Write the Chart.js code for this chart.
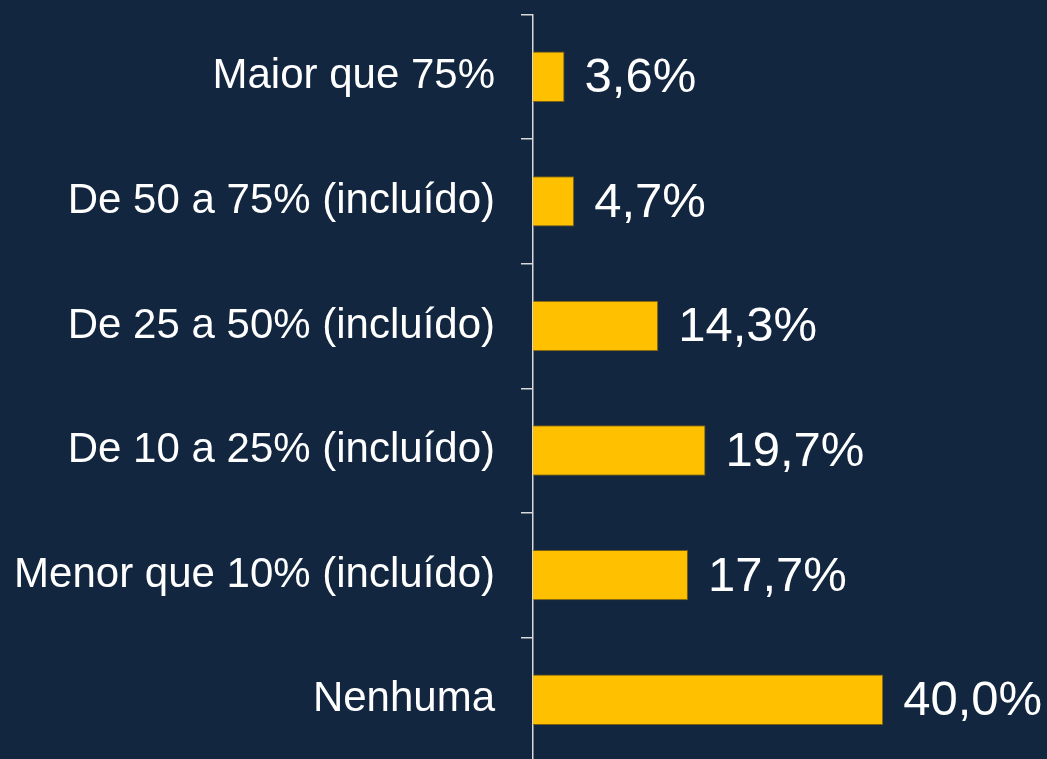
<!DOCTYPE html>
<html>
<head>
<meta charset="utf-8">
<script src="https://cdn.jsdelivr.net/npm/chart.js@4"></script>
<style>
    html, body { margin: 0; padding: 0; background: #122640; overflow: hidden; }
    #chartBox { width: 1047px; height: 762px; }
</style>
</head>
<body>
<div id="chartBox"><canvas id="shareChart"></canvas></div>
<script>
var categories = ["Maior que 75%", "De 50 a 75% (incluído)", "De 25 a 50% (incluído)", "De 10 a 25% (incluído)", "Menor que 10% (incluído)", "Nenhuma"];
var shares = [3.6, 4.7, 14.3, 19.7, 17.7, 40.0];
var shareLabels = ["3,6%", "4,7%", "14,3%", "19,7%", "17,7%", "40,0%"];

var lineColour = "#d9d9d9";

// draws the value text to the right of each bar
var valueLabels = {
    id: "valueLabels",
    afterDatasetsDraw: function(chart){
        var ctx = chart.ctx;
        var meta = chart.getDatasetMeta(0);
        ctx.save();
        ctx.font = "49px 'Liberation Sans', Arial, sans-serif";
        ctx.fillStyle = "white";
        ctx.textAlign = "left";
        ctx.textBaseline = "middle";
        for(var i=0; i<meta.data.length; i++){
            var bar = meta.data[i];
            ctx.fillText(shareLabels[i], bar.x + 20, bar.y + 2);
        }
        ctx.restore();
    }
};

new Chart("shareChart", {
    type: "bar",
    data: {
        labels: categories,
        datasets: [{
            data: shares,
            backgroundColor: "#ffc000",
            borderColor: "rgba(130,100,10,0.9)",
            borderWidth: 1,
            borderSkipped: "left",
            barPercentage: 0.405,
            categoryPercentage: 1
        }]
    },
    options: {
        indexAxis: "y",
        responsive: true,
        maintainAspectRatio: false,
        animation: false,
        layout: {
            padding: { top: 14.5, bottom: 0, left: 0, right: 0 }
        },
        plugins: {
            legend: { display: false },
            tooltip: { enabled: false }
        },
        scales: {
            x: {
                display: false,
                min: 0,
                max: 58.7
            },
            y: {
                afterFit: function(scale){
                    scale.width = 533;
                    scale.paddingTop = 0;
                    scale.paddingBottom = 0;
                },
                border: { color: lineColour, width: 1.5 },
                grid: {
                    offset: true,
                    drawOnChartArea: false,
                    drawTicks: true,
                    tickLength: 12,
                    color: lineColour,
                    lineWidth: 1.5
                },
                ticks: {
                    color: "white",
                    padding: 26,
                    font: { family: "'Liberation Sans', Arial, sans-serif", size: 42 }
                }
            }
        }
    },
    plugins: [valueLabels]
});
</script>
</body>
</html>
